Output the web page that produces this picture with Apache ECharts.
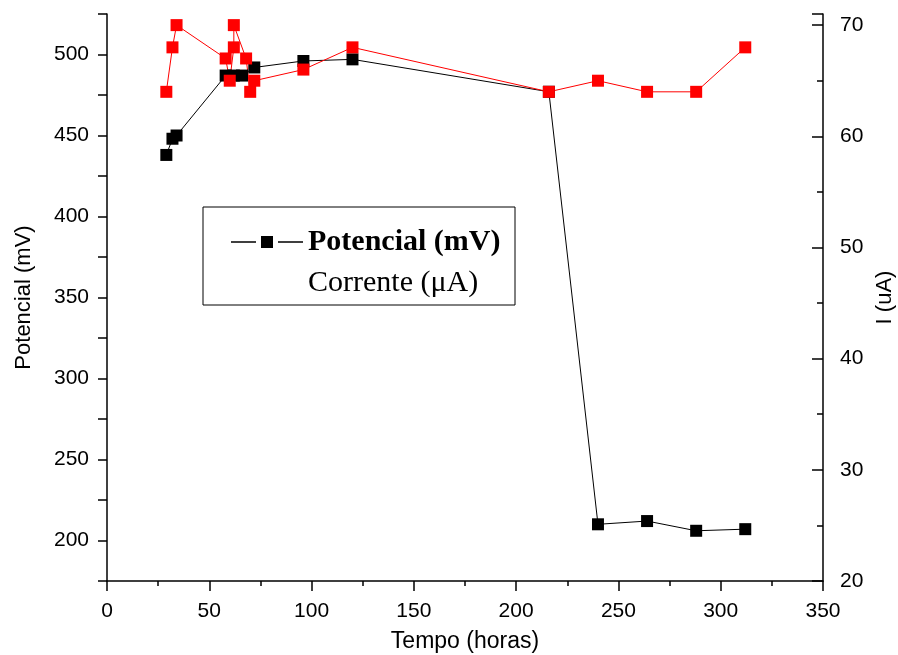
<!DOCTYPE html>
<html>
<head>
<meta charset="utf-8">
<script src="https://cdn.jsdelivr.net/npm/echarts@6/dist/echarts.min.js"></script>
<style>
  html, body { margin: 0; padding: 0; background: #fff; }
  #chart { width: 898px; height: 655px; }
</style>
</head>
<body>
<div id="chart"></div>
<script>
// Potencial (mV) vs tempo
const tempoPot = [29, 32, 34, 58, 62, 66, 72, 96, 120, 216, 240, 264, 288, 312]
const potencial = [438, 448, 450, 487, 487, 487, 492, 496, 497, 477, 210, 212, 206, 207]

// Corrente (uA) vs tempo
const tempoCorr = [29, 32, 34, 58, 60, 62, 62, 68, 70, 72, 96, 120, 216, 240, 264, 288, 312]
const corrente = [64, 68, 70, 67, 65, 68, 70, 67, 64, 65, 66, 68, 64, 65, 64, 64, 68]

const pairs = (xs, ys) => xs.map((x, i) => [x, ys[i]])

const sansFont = "'Liberation Sans', Arial, sans-serif"
const serifFont = "'Liberation Serif', 'Times New Roman', serif"

const chart = echarts.init(document.getElementById('chart'))

const axisLine = { show: true, lineStyle: { color: '#000', width: 1.5 } }

// icone da legenda: linha - quadrado - linha
const legendIcon = 'path://M0,5.2H25V6.8H0Z M30,0H42V12H30Z M47,5.2H72V6.8H47Z'

const option = {
  animation: false,
  backgroundColor: '#fff',
  grid: { left: 107, right: 75, top: 14, bottom: 74, outerBoundsMode: 'none' },
  graphic: [{
    type: 'rect',
    shape: { x: 203, y: 207, width: 312, height: 98 },
    style: { fill: '#fff', stroke: '#000', lineWidth: 1 },
    z: 5
  }],
  legend: {
    orient: 'vertical',
    left: 225,
    top: 222,
    itemWidth: 72,
    itemHeight: 12,
    itemGap: 11,
    z: 10,
    data: [
      {
        name: 'Potencial (mV)',
        icon: legendIcon,
        itemStyle: { color: '#000' },
        textStyle: { fontFamily: serifFont, fontSize: 30, fontWeight: 'bold', color: '#000' }
      },
      {
        name: 'Corrente (μA)',
        itemStyle: { opacity: 0 },
        lineStyle: { opacity: 0 },
        textStyle: { fontFamily: serifFont, fontSize: 30, color: '#000' }
      }
    ]
  },
  xAxis: {
    type: 'value',
    min: 0,
    max: 350,
    interval: 50,
    name: 'Tempo (horas)',
    nameLocation: 'middle',
    nameGap: 49,
    nameTextStyle: { fontFamily: sansFont, fontSize: 23, color: '#000' },
    axisLine,
    axisTick: { show: true, length: 10, lineStyle: { color: '#000', width: 1.5 } },
    minorTick: { show: true, splitNumber: 2, length: 5, lineStyle: { color: '#000', width: 1.5 } },
    axisLabel: { margin: 20, fontFamily: sansFont, fontSize: 21, color: '#000' },
    splitLine: { show: false }
  },
  yAxis: [
    {
      type: 'value',
      position: 'left',
      min: 175,
      max: 525,
      interval: 25,
      name: 'Potencial (mV)',
      nameLocation: 'middle',
      nameGap: 72,
      nameTextStyle: { fontFamily: sansFont, fontSize: 22, color: '#000' },
      axisLine,
      axisTick: { show: true, length: 9, lineStyle: { color: '#000', width: 1.5 } },
      axisLabel: {
        margin: 18,
        fontFamily: sansFont,
        fontSize: 21,
        color: '#000',
        formatter: v => (v % 50 === 0 ? String(v) : '')
      },
      splitLine: { show: false }
    },
    {
      type: 'value',
      position: 'right',
      min: 20,
      max: 71,
      interval: 10,
      name: 'I (uA)',
      nameLocation: 'middle',
      nameGap: 40,
      nameTextStyle: { fontFamily: sansFont, fontSize: 22, color: '#000' },
      axisLine,
      axisTick: { show: true, inside: true, length: 11, lineStyle: { color: '#000', width: 1.5 } },
      minorTick: { show: true, splitNumber: 2, length: 6, lineStyle: { color: '#000', width: 1.5 } },
      axisLabel: {
        margin: 17,
        fontFamily: sansFont,
        fontSize: 21,
        color: '#000',
        showMaxLabel: false
      },
      splitLine: { show: false }
    }
  ],
  series: [
    {
      name: 'Potencial (mV)',
      type: 'line',
      yAxisIndex: 0,
      data: pairs(tempoPot, potencial),
      symbol: 'rect',
      symbolSize: 12,
      color: '#000',
      itemStyle: { color: '#000' },
      lineStyle: { color: '#000', width: 1 }
    },
    {
      name: 'Corrente (μA)',
      type: 'line',
      yAxisIndex: 1,
      data: pairs(tempoCorr, corrente),
      symbol: 'rect',
      symbolSize: 12,
      color: '#ff0000',
      itemStyle: { color: '#ff0000' },
      lineStyle: { color: '#ff0000', width: 1 }
    }
  ]
}

chart.setOption(option)
</script>
</body>
</html>
